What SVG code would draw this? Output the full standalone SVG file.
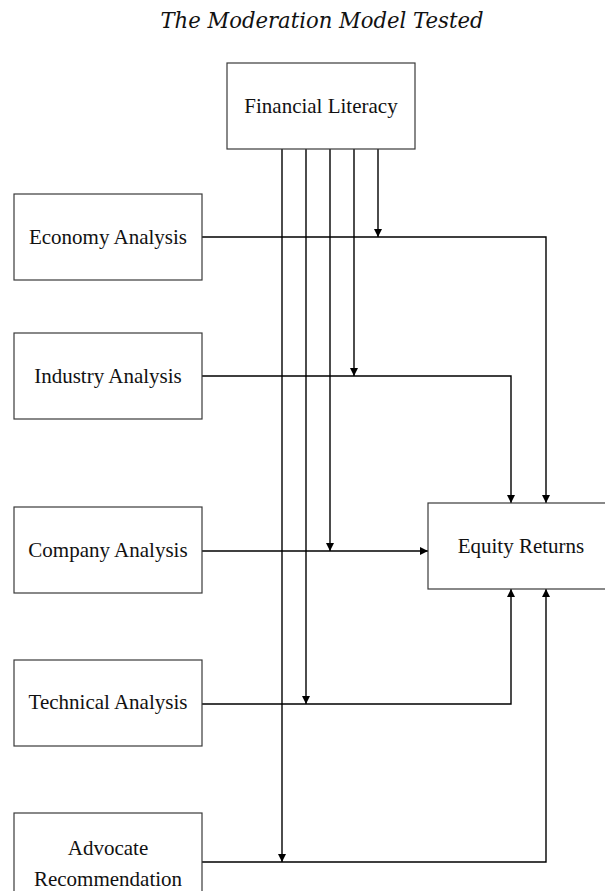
<svg xmlns="http://www.w3.org/2000/svg" width="605" height="891" viewBox="0 0 605 891">
<style>
.box{fill:#fff;stroke:#3a3a3a;stroke-width:1.2}
.lbl{font-family:"Liberation Serif","Times New Roman",serif;font-size:21px;fill:#111;text-anchor:middle}
.title{font-family:"DejaVu Serif",serif;font-style:italic;font-size:22px;fill:#111;text-anchor:middle}
.c{fill:none;stroke:#000;stroke-width:1.4}
</style>
<defs>
<marker id="ah" viewBox="0 0 10 10" refX="10" refY="5" markerWidth="8" markerHeight="8" markerUnits="userSpaceOnUse" orient="auto">
<path d="M0,0 L10,5 L0,10 z" fill="#000"/>
</marker>
</defs>
<rect width="605" height="891" fill="#fff"/>
<text class="title" x="322" y="28" textLength="323" lengthAdjust="spacingAndGlyphs">The Moderation Model Tested</text>

<g id="connectors">
<path class="c" d="M202,237 H546 V503" marker-end="url(#ah)"/>
<path class="c" d="M202,376 H511 V503" marker-end="url(#ah)"/>
<path class="c" d="M202,551 H428" marker-end="url(#ah)"/>
<path class="c" d="M202,704 H511 V589" marker-end="url(#ah)"/>
<path class="c" d="M202,862 H546 V589" marker-end="url(#ah)"/>
<path class="c" d="M378,149 V237" marker-end="url(#ah)"/>
<path class="c" d="M354,149 V376" marker-end="url(#ah)"/>
<path class="c" d="M330,149 V551" marker-end="url(#ah)"/>
<path class="c" d="M306,149 V704" marker-end="url(#ah)"/>
<path class="c" d="M282,149 V862" marker-end="url(#ah)"/>
</g>

<g id="financial-literacy">
<rect class="box" x="227" y="63" width="188" height="86"/>
<text class="lbl" x="321" y="113">Financial Literacy</text>
</g>
<g id="economy-analysis">
<rect class="box" x="14" y="194" width="188" height="86"/>
<text class="lbl" x="108" y="244">Economy Analysis</text>
</g>
<g id="industry-analysis">
<rect class="box" x="14" y="333" width="188" height="86"/>
<text class="lbl" x="108" y="383">Industry Analysis</text>
</g>
<g id="company-analysis">
<rect class="box" x="14" y="507" width="188" height="86"/>
<text class="lbl" x="108" y="557">Company Analysis</text>
</g>
<g id="technical-analysis">
<rect class="box" x="14" y="660" width="188" height="86"/>
<text class="lbl" x="108" y="709">Technical Analysis</text>
</g>
<g id="advocate-recommendation">
<rect class="box" x="14" y="813" width="188" height="86"/>
<text class="lbl" x="108" y="855">Advocate</text>
<text class="lbl" x="108" y="886">Recommendation</text>
</g>
<g id="equity-returns">
<rect class="box" x="428" y="503" width="188" height="86"/>
<text class="lbl" x="521" y="553">Equity Returns</text>
</g>
</svg>
